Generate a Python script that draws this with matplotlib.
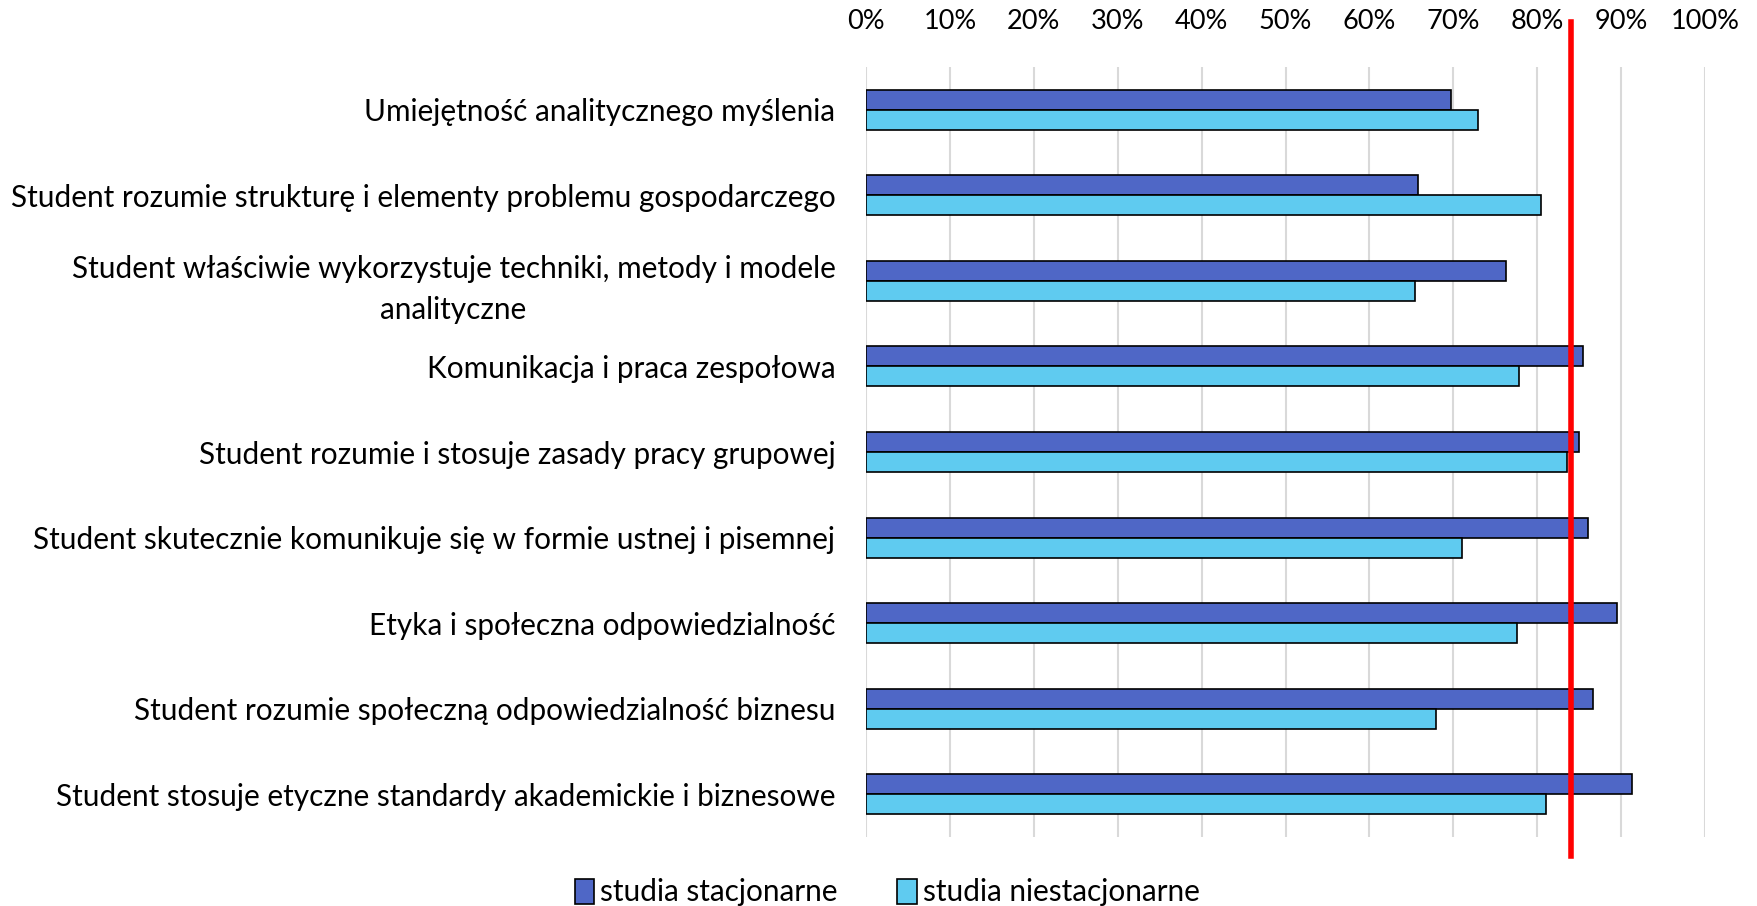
import matplotlib
matplotlib.use("Agg")
import matplotlib.pyplot as plt
import numpy as np
from matplotlib.ticker import PercentFormatter

plt.rcParams['font.family'] = ['Lato', 'DejaVu Sans']

# data (share of students, %)
categories = [
    "Umiejętność analitycznego myślenia",
    "Student rozumie strukturę i elementy problemu gospodarczego",
    "Student właściwie wykorzystuje techniki, metody i modele\nanalityczne",
    "Komunikacja i praca zespołowa",
    "Student rozumie i stosuje zasady pracy grupowej",
    "Student skutecznie komunikuje się w formie ustnej i pisemnej",
    "Etyka i społeczna odpowiedzialność",
    "Student rozumie społeczną odpowiedzialność biznesu",
    "Student stosuje etyczne standardy akademickie i biznesowe",
]
stacjonarne = [69.7, 65.8, 76.3, 85.5, 85.0, 86.1, 89.5, 86.7, 91.3]
niestacjonarne = [73.0, 80.5, 65.4, 77.8, 83.6, 71.0, 77.6, 67.9, 81.1]
threshold = 84.0
x_ticks = list(range(0, 101, 10))

fig = plt.figure(figsize=(17.57, 9.06), dpi=100)
ax = fig.add_axes([0.4929, 0.0762, 0.4775, 0.8498])

y = np.arange(len(categories))
h = 0.234
ax.barh(y - h / 2, stacjonarne, height=h, color='#4F67C6', edgecolor='black',
        linewidth=1.2, label='studia stacjonarne', zorder=3)
ax.barh(y + h / 2, niestacjonarne, height=h, color='#5FCBF0', edgecolor='black',
        linewidth=1.2, label='studia niestacjonarne', zorder=3)

ax.axvline(threshold, ymin=-0.025, ymax=1.058, color='#FF0000', linewidth=4,
           clip_on=False, zorder=4)

ax.set_xlim(0, 100)
ax.set_ylim(len(categories) - 0.5, -0.5)
ax.set_xticks(x_ticks)
ax.xaxis.set_major_formatter(PercentFormatter(decimals=0))
ax.xaxis.tick_top()
ax.tick_params(axis='x', length=0, pad=24, labelsize=19.5)
ax.tick_params(axis='y', length=0, pad=22, labelsize=21.4)
ax.set_yticks(y)
ax.set_yticklabels(categories, multialignment='center', linespacing=1.55)
ax.grid(axis='x', color='#D9D9D9', linewidth=1.5, zorder=0)
for s in ax.spines.values():
    s.set_visible(False)

fig.legend(loc='lower center', bbox_to_anchor=(0.505, -0.03), ncol=2, frameon=False,
           fontsize=21.4, handlelength=0.65, handleheight=0.9, handletextpad=0.2,
           columnspacing=2.0)

fig.savefig("out.png", dpi=100)
